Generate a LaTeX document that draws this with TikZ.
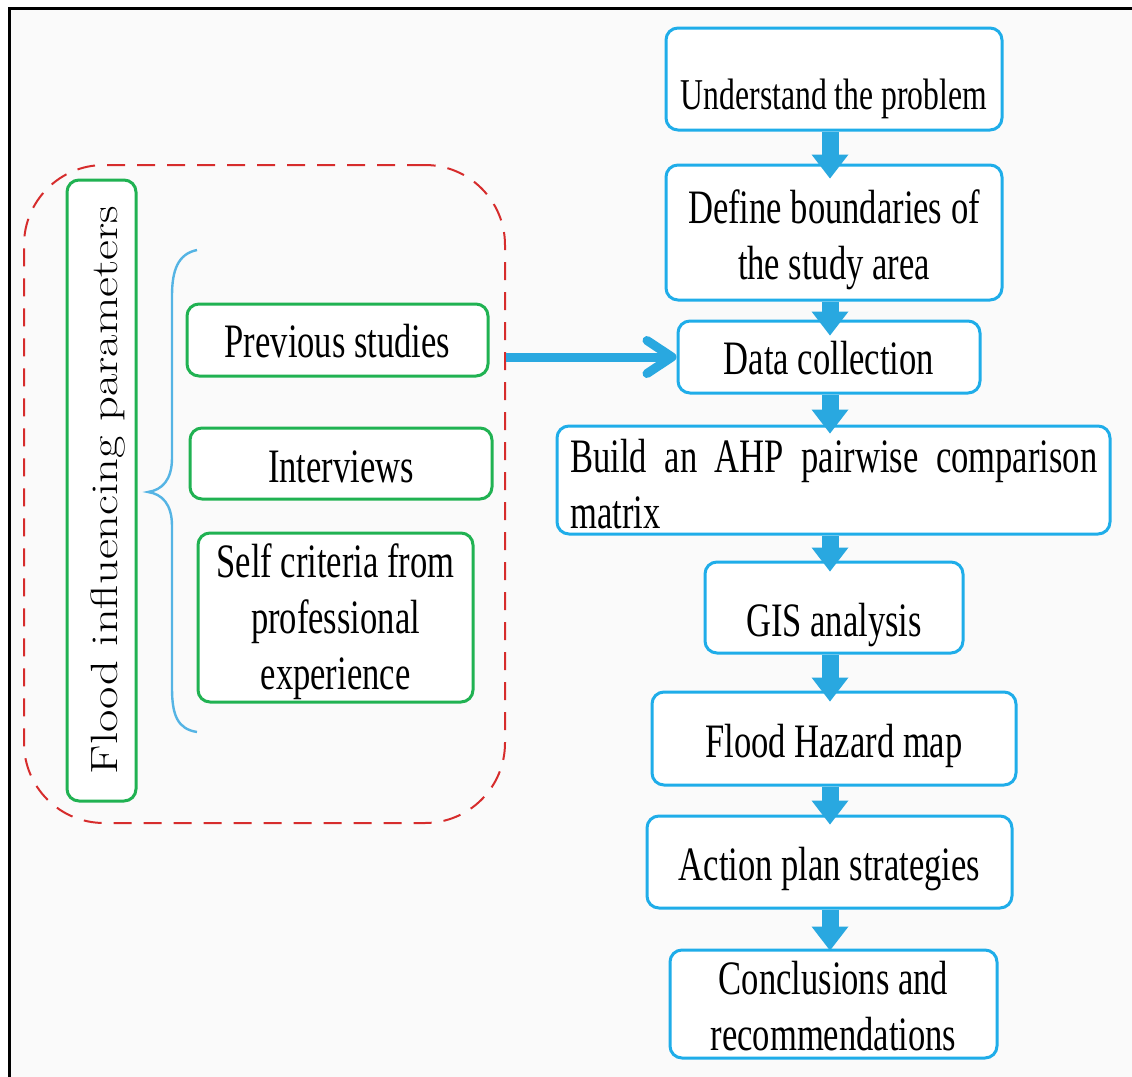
\documentclass[tikz,border=0pt]{standalone}
\usepackage{fontspec}
\usepackage{graphicx}
\newfontfamily\ser{Liberation Serif}[FakeStretch=0.72]
\usetikzlibrary{arrows.meta,fit}
\definecolor{boxblue}{RGB}{31,173,233}
\definecolor{arrblue}{RGB}{41,168,224}
\definecolor{grn}{RGB}{32,178,82}
\definecolor{dred}{RGB}{214,44,44}
\definecolor{bgc}{RGB}{250,250,250}
\definecolor{brc}{RGB}{85,180,228}
\begin{document}
\begin{tikzpicture}[x=0.5pt,y=-0.5pt,
  bbox/.style={draw=boxblue,line width=1.5pt,rounded corners=6pt,fill=white,inner sep=0pt},
  gbox/.style={draw=grn,line width=1.5pt,rounded corners=6pt,fill=white,inner sep=0pt},
  txt/.style={font=\ser\fontsize{24}{28}\selectfont,inner sep=0pt,align=center},
  blk/.style={draw=arrblue,line width=8.5pt,-{Triangle[width=18.5pt,length=12pt,line width=0pt]}},
]
\useasboundingbox (0,0) rectangle (1132,1077);
\fill[white] (0,0) rectangle (1132,1077);
\fill[bgc] (9,8) rectangle (1132,1077);
\draw[line width=1.5pt] (9,1077) -- (9,8) -- (1132,8);

% left group
\node[draw=dred,dash pattern=on 9pt off 6pt,line width=1pt,rounded corners=40pt,inner sep=0pt,fit={(24,165) (505,823)}] (grp) {};
\node[gbox,fit={(67,180) (136,801)}] (fip) {};
\node[rotate=90,anchor=base,inner sep=0pt,font=\fontsize{19}{22}\selectfont] (fipt) at (118,490) {\scalebox{1.28}[1]{Flood influencing parameters}};
\draw[brc,line width=1.2pt] (197,250) .. controls (178,254) and (172,270) .. (172,296) -- (172,458) .. controls (172,480) and (162,490) .. (148,492) .. controls (162,494) and (172,504) .. (172,526) -- (172,688) .. controls (172,716) and (178,729) .. (197,732);

\node[gbox,fit={(187,304) (488,376)}] (prev) {};
\node[txt,anchor=base] (prevt) at (337.5,357) {Previous studies};
\node[gbox,fit={(190,428) (492,499)}] (intv) {};
\node[txt,anchor=base] (intvt) at (341,482) {Interviews};
\node[gbox,fit={(198,533) (473,702)}] (self) {};
\node[txt] (selft) at (335.5,622) {Self criteria from\\professional\\experience};

% right column
\node[bbox,fit={(666,28) (1002,130)}] (b1) {};
\node[txt,anchor=base,font=\ser\fontsize{22}{26}\selectfont] (t1) at (834,109) {Understand the problem};
\node[bbox,fit={(666,165) (1002,300)}] (b2) {};
\node[txt] (t2) at (834,240) {Define boundaries of\\the study area};
\node[bbox,fit={(678,321) (980,393)}] (b3) {};
\node[txt,anchor=base] (t3) at (829,374) {Data collection};
\node[bbox,fit={(557,426) (1110,534)}] (b4) {};
\node[txt,anchor=north west,text width=263.5pt,align=justify] (t4) at (570,439) {Build an AHP pairwise comparison matrix};
\node[bbox,fit={(705,562) (963,653)}] (b5) {};
\node[txt,anchor=base] (t5) at (834,636) {GIS analysis};
\node[bbox,fit={(652,692) (1016,785)}] (b6) {};
\node[txt,anchor=base] (t6) at (834,757) {Flood Hazard map};
\node[bbox,fit={(647,816) (1012,908)}] (b7) {};
\node[txt,anchor=base] (t7) at (829.5,880) {Action plan strategies};
\node[bbox,fit={(670,950) (997,1058)}] (b8) {};
\node[txt] (t8) at (833.5,1006) {Conclusions and\\recommendations};

\coordinate (ax) at (830,0);
\draw[blk] (b1.south -| ax) -- ([yshift=-7.5pt]b2.north -| ax);
\draw[blk] (b2.south -| ax) -- ([yshift=-8pt]b3.north -| ax);
\draw[blk] (b3.south -| ax) -- ([yshift=-4.5pt]b4.north -| ax);
\draw[blk] (b4.south -| ax) -- ([yshift=-5.5pt]b5.north -| ax);
\draw[blk] (b5.south -| ax) -- ([yshift=-5.5pt]b6.north -| ax);
\draw[blk] (b6.south -| ax) -- ([yshift=-5pt]b7.north -| ax);
\draw[blk] (b7.south -| ax) -- ([yshift=-1pt]b8.north -| ax);

\draw[arrblue,line width=4.5pt,-{Straight Barb[length=12.5pt,width=16.5pt,round]}] (grp.east |- b3.west) -- (b3.west);
\end{tikzpicture}
\end{document}
